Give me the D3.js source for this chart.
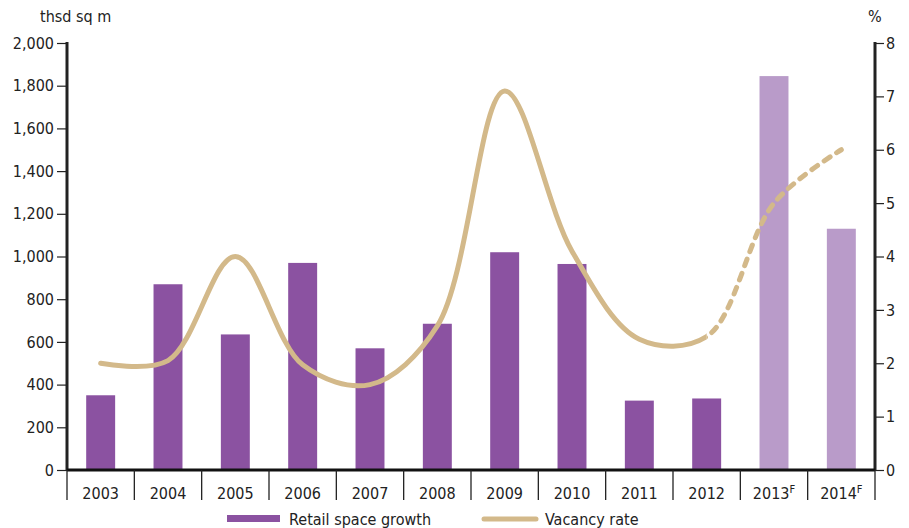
<!DOCTYPE html>
<html><head><meta charset="utf-8">
<script src="https://cdn.jsdelivr.net/npm/d3@7"></script>
<style>
body{margin:0;background:#fff;}
svg text{font-family:"DejaVu Sans Condensed","DejaVu Sans",sans-serif;font-stretch:condensed;fill:#222;}
</style></head>
<body><svg id="c" width="909" height="528"></svg>
<script>
const years = ["2003","2004","2005","2006","2007","2008","2009","2010","2011","2012","2013","2014"];
const forecast = [false,false,false,false,false,false,false,false,false,false,true,true];
const retailGrowth = [350,870,635,970,570,685,1020,965,325,335,1845,1130];
const vacancyRate = [2.0,2.05,4.0,1.97,1.6,2.7,7.1,4.1,2.45,2.5,5.0,6.0];
const leftTicks = [0,200,400,600,800,1000,1200,1400,1600,1800,2000];
const rightTicks = [0,1,2,3,4,5,6,7,8];

const svg = d3.select("#c");
const L = 67, R = 875, T = 43, B = 470;
const FF = '"DejaVu Sans Condensed","DejaVu Sans",sans-serif';
const x = d3.scaleBand().domain(years).range([L, R]).paddingInner(0.57).paddingOuter(0.285);
const xb = d3.scaleBand().domain(years).range([L, R]);
const y = d3.scaleLinear().domain([0, 2000]).range([B, T]);
const y2 = d3.scaleLinear().domain([0, 8]).range([B, T]);

// bars
svg.append("g").selectAll("rect").data(years).join("rect")
  .attr("x", d => x(d)).attr("width", x.bandwidth())
  .attr("y", (d,i) => y(retailGrowth[i])).attr("height", (d,i) => B - y(retailGrowth[i]))
  .attr("fill", (d,i) => forecast[i] ? "#b99bc9" : "#8b52a1");

// vacancy line
const pts = years.map((d,i) => [xb(d) + xb.bandwidth()/2, y2(vacancyRate[i])]);
const line = d3.line().curve(d3.curveCatmullRom.alpha(0.5));
const xSplit = xb("2012") + xb.bandwidth()/2;
const defs = svg.append("defs");
defs.append("clipPath").attr("id","cs").append("rect").attr("x",0).attr("y",0).attr("width",xSplit).attr("height",528);
defs.append("clipPath").attr("id","cd").append("rect").attr("x",xSplit).attr("y",0).attr("width",909-xSplit).attr("height",528);
svg.append("path").attr("d", line(pts)).attr("fill","none").attr("stroke","#d3b98a")
  .attr("stroke-width",5).attr("stroke-linecap","round").attr("clip-path","url(#cs)");
svg.append("path").attr("d", line(pts.slice(8))).attr("fill","none").attr("stroke","#d3b98a")
  .attr("stroke-width",5).attr("stroke-linecap","round").attr("stroke-dasharray","7,8")
  .attr("clip-path","url(#cd)");

// left axis
const ga = svg.append("g").attr("transform",`translate(${L},0)`)
  .call(d3.axisLeft(y).tickValues(leftTicks).tickSize(10).tickPadding(3).tickFormat(d3.format(",")));
ga.select(".domain").remove();
ga.selectAll("line").attr("stroke","#222").attr("stroke-width",1.2);
ga.selectAll("text").attr("font-size",16).attr("font-family",FF);
svg.append("line").attr("x1",L).attr("x2",L).attr("y1",T-1).attr("y2",B).attr("stroke","#222").attr("stroke-width",3);

// right axis
const gr = svg.append("g").attr("transform",`translate(${R},0)`)
  .call(d3.axisRight(y2).tickValues(rightTicks).tickSize(9).tickPadding(2).tickFormat(d3.format("d")));
gr.select(".domain").remove();
gr.selectAll("line").attr("stroke","#222").attr("stroke-width",1.2);
gr.selectAll("text").attr("font-size",16).attr("font-family",FF);
svg.append("line").attr("x1",R).attr("x2",R).attr("y1",T-1).attr("y2",B).attr("stroke","#222").attr("stroke-width",3);

// x axis baseline and separators
svg.append("line").attr("x1",L).attr("x2",R).attr("y1",B).attr("y2",B).attr("stroke","#111").attr("stroke-width",3);
const bounds = years.map(d => xb(d)).concat([R]);
svg.append("g").selectAll("line").data(bounds).join("line")
  .attr("x1",d=>d).attr("x2",d=>d).attr("y1",B).attr("y2",500)
  .attr("stroke","#222").attr("stroke-width",1.3);
const xl = svg.append("g").selectAll("text").data(years).join("text")
  .attr("x", d => xb(d) + xb.bandwidth()/2).attr("y", 499)
  .attr("text-anchor","middle").attr("font-size",16);
xl.each(function(d,i){
  const t = d3.select(this);
  t.append("tspan").text(d);
  if (forecast[i]) t.append("tspan").attr("font-size",11).attr("dy",-6).text("F");
});

// unit labels
svg.append("text").attr("x",40).attr("y",22).attr("font-size",16).text("thsd sq m");
svg.append("text").attr("x",868).attr("y",22).attr("font-size",16).text("%");

// legend
svg.append("rect").attr("x",227).attr("y",515).attr("width",53).attr("height",7).attr("fill","#8b52a1");
svg.append("text").attr("x",289).attr("y",525).attr("font-size",16).text("Retail space growth");
svg.append("line").attr("x1",484).attr("x2",536).attr("y1",519).attr("y2",519).attr("stroke","#d3b98a").attr("stroke-width",5).attr("stroke-linecap","round");
svg.append("text").attr("x",545).attr("y",525).attr("font-size",16).text("Vacancy rate");
</script></body></html>
